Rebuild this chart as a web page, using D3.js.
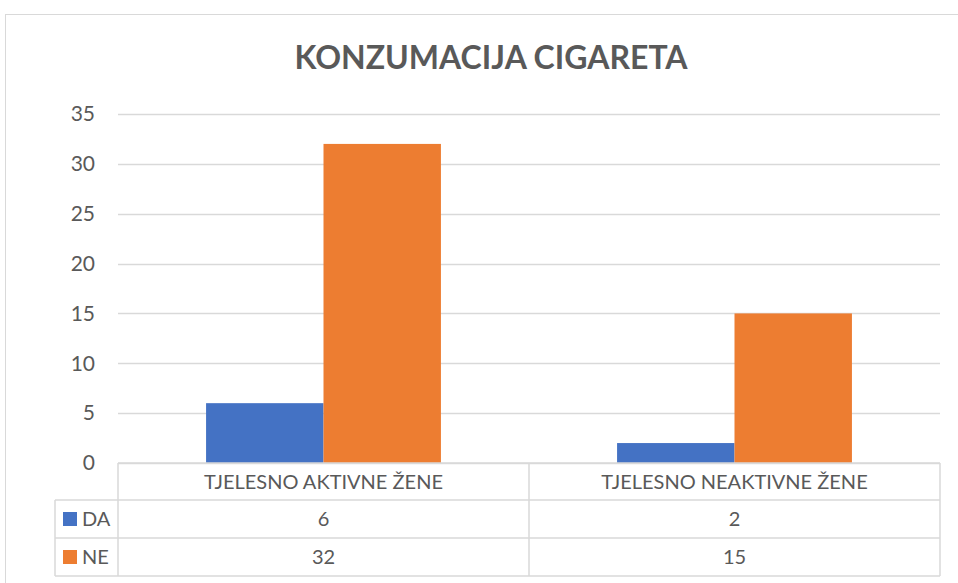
<!DOCTYPE html>
<html>
<head>
<meta charset="utf-8">
<script src="https://cdn.jsdelivr.net/npm/d3@7"></script>
<style>
  body { margin: 0; background: #fff; }
  text { font-family: Lato, "Open Sans", sans-serif; fill: #595959; }
</style>
</head>
<body>
<script>
// chart data
var categories = ["TJELESNO AKTIVNE ŽENE", "TJELESNO NEAKTIVNE ŽENE"];
var seriesNames = ["DA", "NE"];
var daValues = [6, 2];
var neValues = [32, 15];
var yTicks = [0, 5, 10, 15, 20, 25, 30, 35];
var colors = ["#4472C4", "#ED7D31"];

var width = 958, height = 583;
var svg = d3.select("body").append("svg")
    .attr("width", width)
    .attr("height", height);

// chart frame
svg.append("rect")
    .attr("x", 5.5).attr("y", 14.5)
    .attr("width", 1000).attr("height", 700)
    .attr("fill", "#fff")
    .attr("stroke", "#d9d9d9");

svg.append("text")
    .attr("x", 491).attr("y", 69)
    .attr("text-anchor", "middle")
    .style("font-size", "32px")
    .style("font-weight", "bold")
    .text("KONZUMACIJA CIGARETA");

var plotLeft = 118, plotRight = 940, plotTop = 114, zero = 463;

var x0 = d3.scaleBand().domain(categories).range([plotLeft, plotRight]);
var x1 = d3.scaleBand().domain(seriesNames).range([0, x0.bandwidth()]).paddingOuter(0.75);
var y = d3.scaleLinear().domain([0, 35]).range([zero, plotTop]);

// gridlines
svg.append("g").selectAll("line")
    .data(yTicks)
    .enter().append("line")
    .attr("x1", plotLeft).attr("x2", plotRight)
    .attr("y1", function(d){ return Math.round(y(d)) + 0.5; })
    .attr("y2", function(d){ return Math.round(y(d)) + 0.5; })
    .attr("stroke", "#d9d9d9")
    .attr("stroke-width", 1.3);

// y labels
svg.append("g").selectAll("text")
    .data(yTicks)
    .enter().append("text")
    .attr("x", 95)
    .attr("y", function(d){ return y(d); })
    .attr("dy", "0.35em")
    .attr("text-anchor", "end")
    .style("font-size", "21px")
    .text(function(d){ return d; });

var rows = categories.map(function(c, i){
    return {cat: c, vals: [daValues[i], neValues[i]]};
});

var groups = svg.append("g").selectAll("g")
    .data(rows)
    .enter().append("g")
    .attr("transform", function(d){ return "translate(" + x0(d.cat) + ",0)"; });

groups.selectAll("rect")
    .data(function(d){ return d.vals.map(function(v, j){ return {s: seriesNames[j], v: v, j: j}; }); })
    .enter().append("rect")
    .attr("x", function(d){ return x1(d.s); })
    .attr("width", x1.bandwidth())
    .attr("y", function(d){ return y(d.v); })
    .attr("height", function(d){ return zero - y(d.v); })
    .attr("fill", function(d){ return colors[d.j]; });

// data table
var rowY = [463, 500, 538, 576];
var tableLeft = 55;
var grid = svg.append("g").attr("stroke", "#d9d9d9").attr("stroke-width", 1.5);
grid.append("line").attr("x1", plotLeft).attr("x2", plotRight).attr("y1", rowY[0]).attr("y2", rowY[0]);
for (var r = 1; r < rowY.length; r++) {
    grid.append("line").attr("x1", tableLeft).attr("x2", plotRight).attr("y1", rowY[r]).attr("y2", rowY[r]);
}
grid.append("line").attr("x1", tableLeft).attr("x2", tableLeft).attr("y1", rowY[1]).attr("y2", rowY[3]);
[plotLeft, x0(categories[1]), plotRight].forEach(function(xv){
    grid.append("line").attr("x1", xv).attr("x2", xv).attr("y1", rowY[0]).attr("y2", rowY[3]);
});

svg.append("g").selectAll("text")
    .data(categories)
    .enter().append("text")
    .attr("x", function(d){ return x0(d) + x0.bandwidth() / 2; })
    .attr("y", (rowY[0] + rowY[1]) / 2)
    .attr("dy", "0.35em")
    .attr("text-anchor", "middle")
    .style("font-size", "20px")
    .text(function(d){ return d; });

var seriesVals = [daValues, neValues];
seriesNames.forEach(function(s, j){
    var cy = (rowY[j + 1] + rowY[j + 2]) / 2;
    svg.append("rect")
        .attr("x", 63).attr("y", cy - 7)
        .attr("width", 14).attr("height", 14)
        .attr("fill", colors[j]);
    svg.append("text")
        .attr("x", 82).attr("y", cy)
        .attr("dy", "0.35em")
        .style("font-size", "20px")
        .text(s);
    svg.append("g").selectAll("text")
        .data(categories)
        .enter().append("text")
        .attr("x", function(d){ return x0(d) + x0.bandwidth() / 2; })
        .attr("y", cy)
        .attr("dy", "0.35em")
        .attr("text-anchor", "middle")
        .style("font-size", "20px")
        .text(function(d, i){ return seriesVals[j][i]; });
});
</script>
</body>
</html>
